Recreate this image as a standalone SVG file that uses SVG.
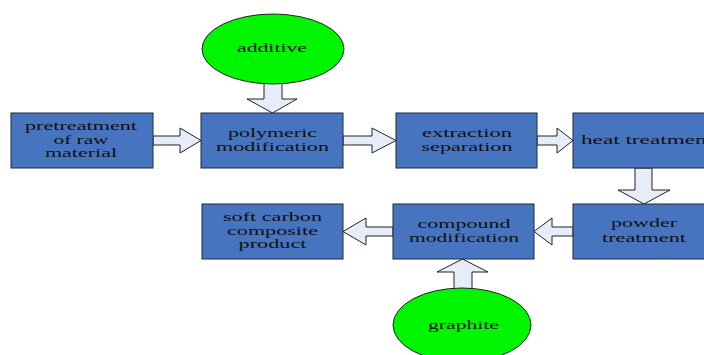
<svg xmlns="http://www.w3.org/2000/svg" width="704" height="355" viewBox="0 0 704 355">
<style>
.box{fill:#4674BF;stroke:#1f2a3a;stroke-width:1}
.ell{fill:#00F500;stroke:#222;stroke-width:1}
.arr{fill:#E6EDF8;stroke:#222;stroke-width:1;stroke-linejoin:miter}
text{font-family:"Liberation Serif","Times New Roman",serif;font-size:12px;fill:#111;text-anchor:middle}
</style>
<rect width="704" height="355" fill="#fff"/>
<g id="connectors">
<polygon class="arr" points="153,136 180,136 180,128 201,140.5 180,153 180,145 153,145"/>
<polygon class="arr" points="343,136 372,136 372,128 396,140.5 372,153 372,145 343,145"/>
<polygon class="arr" points="537,136 557,136 557,128 573,140.5 557,153 557,145 537,145"/>
<polygon class="arr" points="393,227 366,227 366,218 343,231.5 366,245 366,236 393,236"/>
<polygon class="arr" points="573,227 552,227 552,218 534,231.5 552,245 552,236 573,236"/>
<polygon class="arr" points="264,82 282,82 282,99 297,99 272.5,113 247,99 264,99"/>
<polygon class="arr" points="635,168 652,168 652,190 670,190 644,204 618,190 635,190"/>
<polygon class="arr" points="454,290 472,290 472,272 488,272 462.5,259 437,272 454,272"/>
</g>
<g id="additive">
<ellipse class="ell" cx="273" cy="49" rx="71" ry="35"/>
<text x="272" y="52" textLength="70" lengthAdjust="spacingAndGlyphs">additive</text>
</g>
<g id="graphite">
<ellipse class="ell" cx="462" cy="325" rx="69" ry="37"/>
<text x="463.5" y="329" textLength="71" lengthAdjust="spacingAndGlyphs">graphite</text>
</g>
<g id="pretreatment">
<rect class="box" x="11" y="113" width="142" height="55"/>
<text x="81" y="130" textLength="112" lengthAdjust="spacingAndGlyphs">pretreatment</text>
<text x="81" y="144" textLength="55" lengthAdjust="spacingAndGlyphs">of raw</text>
<text x="81" y="157" textLength="72" lengthAdjust="spacingAndGlyphs">material</text>
</g>
<g id="polymeric">
<rect class="box" x="201" y="113" width="142" height="55"/>
<text x="272.5" y="137" textLength="89" lengthAdjust="spacingAndGlyphs">polymeric</text>
<text x="272.5" y="151" textLength="113" lengthAdjust="spacingAndGlyphs">modification</text>
</g>
<g id="extraction">
<rect class="box" x="396" y="113" width="141" height="55"/>
<text x="467" y="137" textLength="90" lengthAdjust="spacingAndGlyphs">extraction</text>
<text x="467" y="151" textLength="91" lengthAdjust="spacingAndGlyphs">separation</text>
</g>
<g id="heat">
<rect class="box" x="573" y="113" width="141" height="55"/>
<text x="647" y="144" textLength="132" lengthAdjust="spacingAndGlyphs">heat treatment</text>
</g>
<g id="soft">
<rect class="box" x="202" y="204" width="141" height="55"/>
<text x="272.5" y="221" textLength="99" lengthAdjust="spacingAndGlyphs">soft carbon</text>
<text x="272.5" y="235" textLength="91" lengthAdjust="spacingAndGlyphs">composite</text>
<text x="272.5" y="248" textLength="68" lengthAdjust="spacingAndGlyphs">product</text>
</g>
<g id="compound">
<rect class="box" x="393" y="204" width="141" height="55"/>
<text x="464" y="228" textLength="93" lengthAdjust="spacingAndGlyphs">compound</text>
<text x="464" y="242" textLength="110" lengthAdjust="spacingAndGlyphs">modification</text>
</g>
<g id="powder">
<rect class="box" x="573" y="204" width="141" height="55"/>
<text x="644" y="227" textLength="66" lengthAdjust="spacingAndGlyphs">powder</text>
<text x="644" y="242" textLength="84" lengthAdjust="spacingAndGlyphs">treatment</text>
</g>
</svg>
